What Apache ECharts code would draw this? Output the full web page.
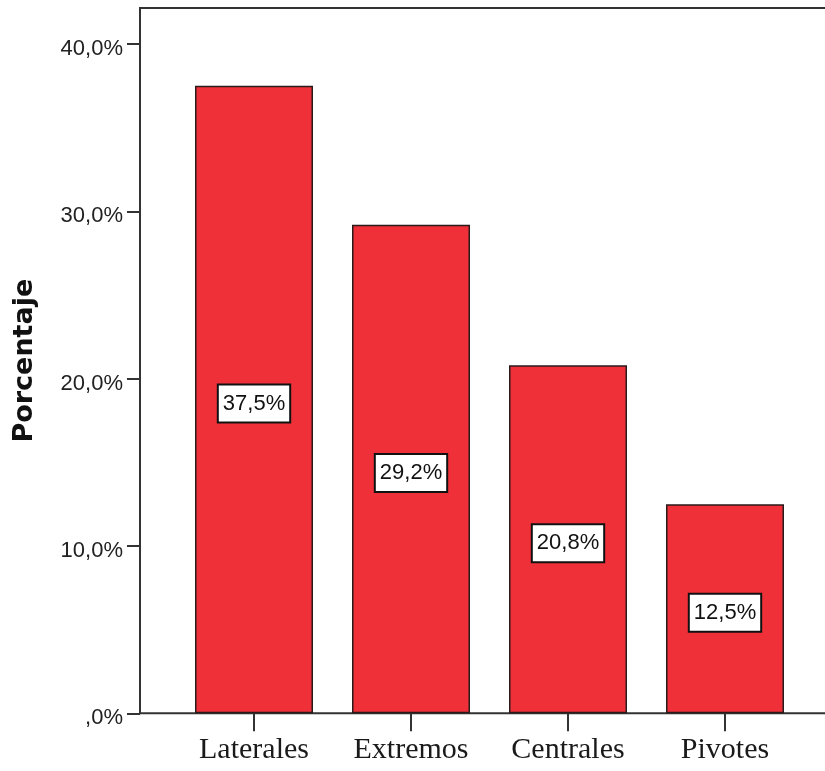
<!DOCTYPE html>
<html>
<head>
<meta charset="utf-8">
<script src="https://cdn.jsdelivr.net/npm/echarts@6/dist/echarts.min.js"></script>
<style>
  html, body { margin: 0; padding: 0; background: #ffffff; }
  #chart { width: 825px; height: 771px; }
</style>
</head>
<body>
<div id="chart"></div>
<script>
// Player positions and their share (%)
const categories = ['Laterales', 'Extremos', 'Centrales', 'Pivotes'];
const percentages = [37.5, 29.2, 20.8, 12.5];
const tickValues = [0, 10, 20, 30, 40];
const tickLabels = [',0%', '10,0%', '20,0%', '30,0%', '40,0%'];
const yTitle = 'Porcentaje';

const yMax = 42.15;
const fmtPct = v => v.toFixed(1).replace('.', ',') + '%';

const chart = echarts.init(document.getElementById('chart'), null, { renderer: 'canvas' });

chart.setOption({
  animation: false,
  backgroundColor: '#ffffff',
  grid: [
    // outer frame with the value axis (runs past the right edge)
    { left: 140, top: 8, right: -30, bottom: 57.7, outerBoundsMode: 'none', containLabel: false,
      show: true, borderColor: '#333333', borderWidth: 2, backgroundColor: 'transparent' },
    // bar area
    { left: 175.5, width: 628, top: 8, bottom: 57.7, outerBoundsMode: 'none', containLabel: false }
  ],
  xAxis: [
    { gridIndex: 0, type: 'value', min: 0, max: 1, show: false },
    {
      gridIndex: 1,
      type: 'category',
      data: categories,
      boundaryGap: true,
      axisLine: { show: false },
      axisTick: { show: true, alignWithLabel: true, length: 18, lineStyle: { color: '#333333', width: 2 } },
      axisLabel: {
        margin: 22,
        fontFamily: '"Liberation Serif", "Times New Roman", serif',
        fontSize: 30,
        color: '#1a1a1a'
      }
    }
  ],
  yAxis: [
    {
      gridIndex: 0,
      type: 'value',
      min: 0,
      max: yMax,
      name: yTitle,
      nameLocation: 'middle',
      nameGap: 102,
      nameRotate: 90,
      nameTextStyle: { fontFamily: '"DejaVu Sans", sans-serif', fontWeight: 'bold', fontSize: 27, color: '#111111' },
      splitLine: { show: false },
      axisLine: { show: true, lineStyle: { color: '#333333', width: 2 } },
      axisTick: { show: true, length: 13, customValues: tickValues, lineStyle: { color: '#333333', width: 2 } },
      axisLabel: {
        customValues: tickValues,
        margin: 17,
        formatter: v => '{t|' + tickLabels[tickValues.indexOf(v)] + '}',
        rich: {
          t: {
            padding: [10, 0, 0, 0],
            fontFamily: '"Liberation Sans", Arial, sans-serif',
            fontSize: 22,
            color: '#222222'
          }
        }
      }
    },
    { gridIndex: 1, type: 'value', min: 0, max: yMax, show: false, splitLine: { show: false } }
  ],
  series: [
    {
      type: 'bar',
      xAxisIndex: 1,
      yAxisIndex: 1,
      data: percentages,
      barWidth: 118,
      itemStyle: { color: '#ef3039', borderColor: '#2a1a1a', borderWidth: 1.5 },
      label: {
        show: true,
        position: 'inside',
        offset: [0, 4],
        formatter: p => fmtPct(p.value),
        fontFamily: '"Liberation Sans", Arial, sans-serif',
        fontSize: 22,
        color: '#111111',
        backgroundColor: '#ffffff',
        borderColor: '#111111',
        borderWidth: 2,
        padding: [8, 4, 6, 4]
      }
    }
  ]
});
</script>
</body>
</html>
